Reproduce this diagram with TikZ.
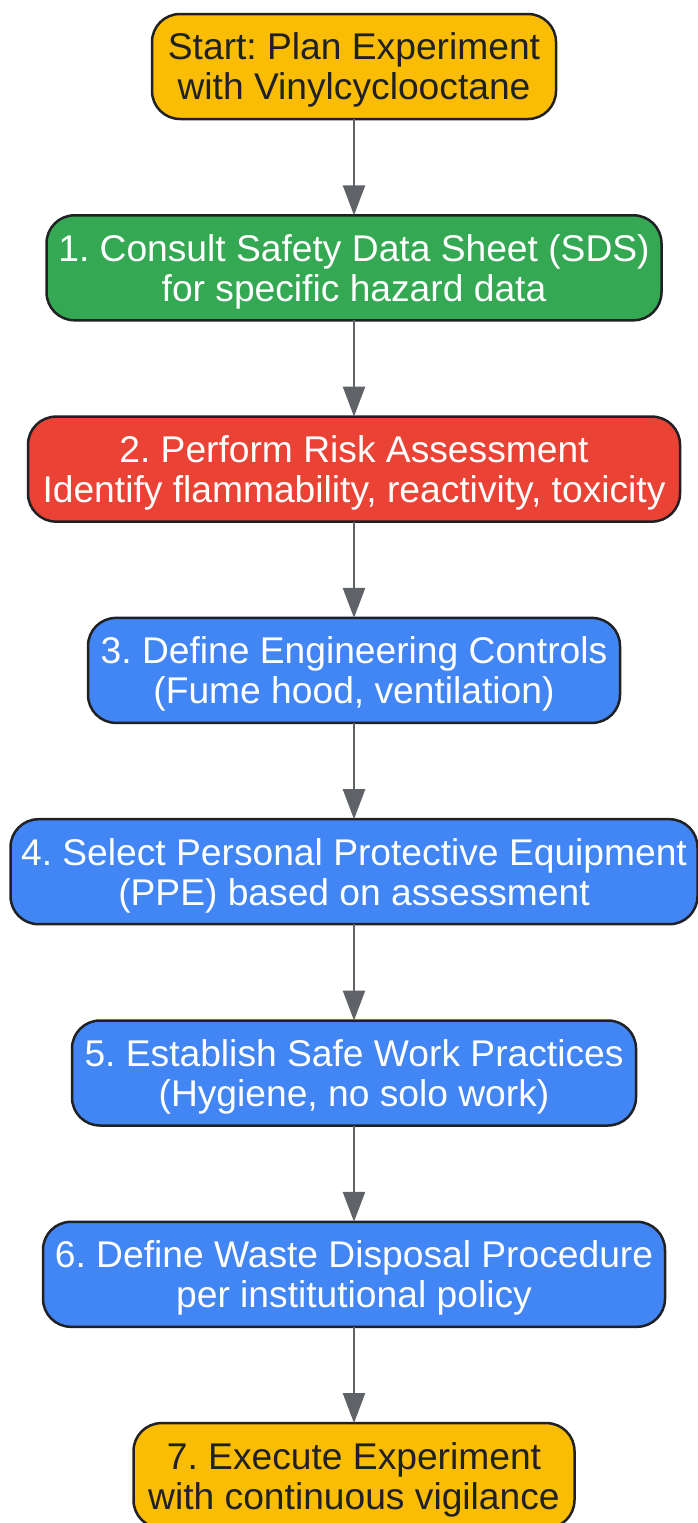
\documentclass[tikz,border=0pt]{standalone}
\usepackage{fontspec}
\setmainfont{Liberation Sans}
\frenchspacing
\usepackage{tikz}
\usetikzlibrary{positioning,arrows.meta}
\definecolor{startyellow}{HTML}{FBBC04}
\definecolor{sdsgreen}{HTML}{34A853}
\definecolor{riskred}{HTML}{EA4335}
\definecolor{stepblue}{HTML}{4285F4}
\definecolor{edgegray}{HTML}{5F6368}
\definecolor{inkdark}{HTML}{202124}
\tikzstyle{stage} = [rectangle, rounded corners=28pt, minimum height=105pt, inner sep=4pt, outer sep=0pt, text depth=0pt, align=center, draw=inkdark, line width=2.5pt, text=white, font=\fontsize{37.2}{40}\selectfont]
\tikzstyle{terminal} = [stage, fill=startyellow, text=inkdark]
\tikzstyle{arrow} = [line width=2.5pt, draw=edgegray, -{Triangle[length=30pt,width=22pt]}]

\begin{document}
\begin{tikzpicture}[node distance=96.3pt]
    \useasboundingbox (0,0) rectangle (697pt,-1523pt);
    \node (start) [terminal, minimum width=404pt] at (354pt,-66.5pt) {Start: Plan Experiment\\with Vinylcyclooctane};
    \node (sds) [stage, fill=sdsgreen, minimum width=615pt, below=of start] {1. Consult Safety Data Sheet (SDS)\\for specific hazard data};
    \node (risk) [stage, fill=riskred, minimum width=652pt, below=of sds] {2. Perform Risk Assessment\\Identify flammability, reactivity, toxicity};
    \node (eng) [stage, fill=stepblue, minimum width=532pt, below=of risk] {3. Define Engineering Controls\\(Fume hood, ventilation)};
    \node (ppe) [stage, fill=stepblue, minimum width=687pt, below=of eng] {4. Select Personal Protective Equipment\\(PPE) based on assessment};
    \node (work) [stage, fill=stepblue, minimum width=564pt, below=of ppe] {5. Establish Safe Work Practices\\(Hygiene, no solo work)};
    \node (waste) [stage, fill=stepblue, minimum width=622pt, below=of work] {6. Define Waste Disposal Procedure\\per institutional policy};
    \node (exec) [terminal, minimum width=441pt, below=of waste] {7. Execute Experiment\\with continuous vigilance};
    \draw [arrow] (start) -- (sds);
    \draw [arrow] (sds) -- (risk);
    \draw [arrow] (risk) -- (eng);
    \draw [arrow] (eng) -- (ppe);
    \draw [arrow] (ppe) -- (work);
    \draw [arrow] (work) -- (waste);
    \draw [arrow] (waste) -- (exec);
\end{tikzpicture}
\end{document}
